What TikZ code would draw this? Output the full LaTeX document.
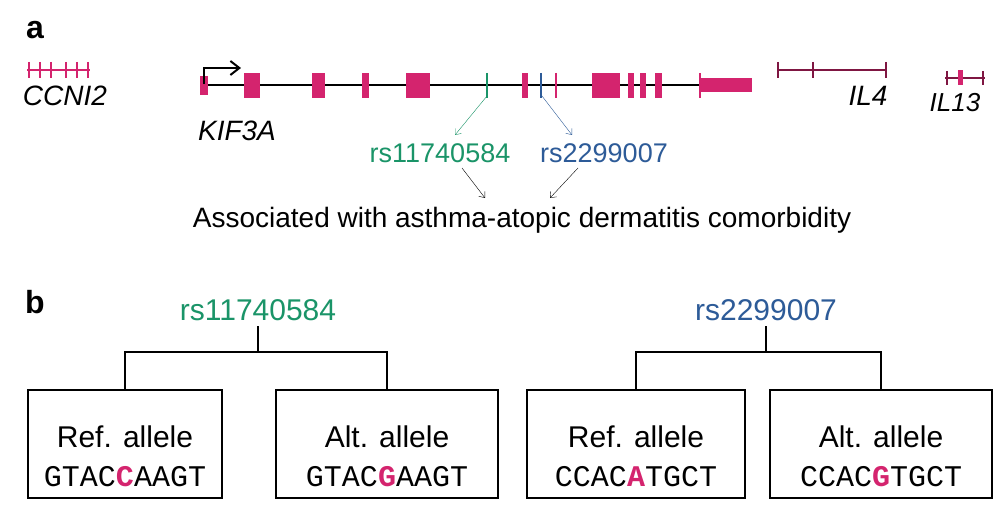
\documentclass[tikz,border=0pt]{standalone}
\usepackage{fontspec}
\setmainfont{Liberation Sans}
\setmonofont{Liberation Mono}
\usetikzlibrary{arrows.meta}
\begin{document}
\definecolor{mag}{HTML}{D4246E}
\definecolor{grn}{HTML}{1A9468}
\definecolor{blu}{HTML}{2D5B98}
\begin{tikzpicture}[x=1pt,y=-1pt,
 >={Straight Barb[length=7pt,width=10pt]},
 box/.style={draw,line width=1.2pt,minimum width=#1,minimum height=108,inner sep=0},
 lbl/.style={font=\fontsize{27}{29}\selectfont},
 it/.style={font=\itshape\fontsize{28}{30}\selectfont},
 big/.style={font=\fontsize{30}{32}\selectfont},
 seq/.style={font=\ttfamily\fontsize{30}{32}\selectfont}]
\useasboundingbox (0,0) rectangle (1000,518);
\fill[white] (0,0) rectangle (1000,518);
\node[font=\bfseries\fontsize{32}{34}\selectfont] (a) at (35,30) {a};
\node[font=\bfseries\fontsize{32}{34}\selectfont] (b) at (35,302) {b};
% CCNI2
\draw[mag,line width=1.2pt] (27,70) -- (90,70);
\foreach \x in {29,40,51,66,77,88}{\draw[mag,line width=1.2pt] (\x,62) -- (\x,78);}
\node[it] (c) at (65,96) {CCNI2};
% KIF3A
\draw[line width=1.5pt] (200,85) -- (752,85);
\fill[mag] (200,76) rectangle (208,95);
\foreach \a/\b in {244/260,312/325,362/369,406/430,522/528,592/620,628/634,640/646,655/662}{\fill[mag] (\a,73) rectangle (\b,98);}
\draw[mag,line width=1.5pt] (556,73) -- (556,98);
\draw[grn,line width=1.2pt] (487,73) -- (487,98);
\draw[blu,line width=1.2pt] (541,73) -- (541,98);
\draw[mag,line width=1.5pt] (700,73) -- (700,98);
\fill[mag] (700,78) rectangle (752,92);
\draw[line width=2pt,->,>={Straight Barb[length=9pt,width=14pt]}] (204,84) -- (204,68) -- (241,68);
\node[it] (k) at (237,131) {KIF3A};
% IL4 / IL13
\draw[mag!60!black,line width=1.5pt] (778,70) -- (886,70);
\foreach \x in {778,813,886}{\draw[mag!60!black,line width=1.3pt] (\x,62) -- (\x,78);}
\node[it] (i4) at (868,96) {IL4};
\draw[mag!60!black,line width=1.5pt] (945,78) -- (985,78);
\foreach \x in {947,983}{\draw[mag!60!black,line width=1.2pt] (\x,71) -- (\x,85);}
\fill[mag] (958,70) rectangle (963,85);
\node[font=\itshape\fontsize{26}{28}\selectfont] (i13) at (955,103) {IL13};
% rs labels
\coordinate (g) at (487,96); \coordinate (bl) at (542,96);
\node[text=grn,lbl] (r1) at (440,153) {rs11740584};
\node[text=blu,lbl] (r2) at (604,153) {rs2299007};
\draw[grn,->,>={Straight Barb[length=5pt,width=8pt]}] (g) -- (455,135);
\draw[blu,->,>={Straight Barb[length=5pt,width=8pt]}] (bl) -- (572,135);
\node[font=\fontsize{28}{30}\selectfont] (as) at (522,220) {Associated with asthma-atopic dermatitis comorbidity};
\draw[->,>={Straight Barb[length=5pt,width=8pt]}] (462,168) -- (485,198);
\draw[->,>={Straight Barb[length=5pt,width=8pt]}] (578,168) -- (550,198);
% b
\node[text=grn,big] (t1) at (258,310) {rs11740584};
\node[text=blu,big] (t2) at (766,310) {rs2299007};
\node[box=194] (b1) at (125,444) {};
\node[box=222] (b2) at (387,444) {};
\node[box=218] (b3) at (636,444) {};
\node[box=222] (b4) at (881,444) {};
\draw[line width=1.2pt] (258,326) -- (258,352);
\draw[line width=1.2pt] (125,390) -- (125,352) -- (387,352) -- (387,390);
\draw[line width=1.2pt] (766,326) -- (766,352);
\draw[line width=1.2pt] (636,390) -- (636,352) -- (881,352) -- (881,390);
\node[big] at (125,437) {Ref. allele};
\node[big] at (387,437) {Alt. allele};
\node[big] at (636,437) {Ref. allele};
\node[big] at (881,437) {Alt. allele};
\node[seq] at (125,477) {GTAC\textcolor{mag}{\textbf{C}}AAGT};
\node[seq] at (387,477) {GTAC\textcolor{mag}{\textbf{G}}AAGT};
\node[seq] at (636,477) {CCAC\textcolor{mag}{\textbf{A}}TGCT};
\node[seq] at (881,477) {CCAC\textcolor{mag}{\textbf{G}}TGCT};
\end{tikzpicture}
\end{document}
